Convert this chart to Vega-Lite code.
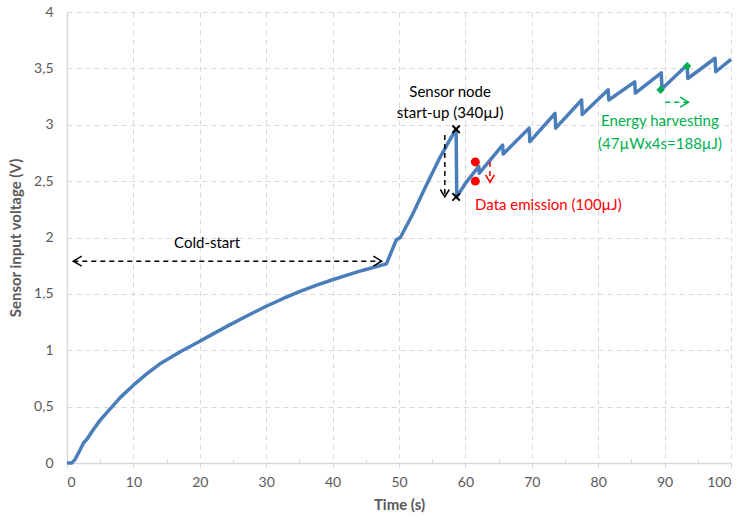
{
  "$schema": "https://vega.github.io/schema/vega-lite/v6.json",
  "width": 664,
  "height": 451,
  "autosize": {"type": "none"},
  "padding": {"left": 67, "top": 12, "right": 14, "bottom": 58},
  "background": "white",
  "config": {
    "font": "Lato",
    "view": {"stroke": null},
    "axis": {
      "labelColor": "#595959",
      "labelFontSize": 14,
      "labelFont": "Lato",
      "titleColor": "#595959",
      "titleFont": "Lato",
      "titleFontSize": 15,
      "titleFontWeight": "bold",
      "domainColor": "#D9D9D9",
      "domainWidth": 1.5,
      "gridColor": "#D9D9D9",
      "gridDash": [5, 4],
      "gridWidth": 1,
      "tickColor": "#D9D9D9"
    }
  },
  "datasets": {
    "curve": [
      {"t": 0, "v": 0}, {"t": 0.7, "v": 0}, {"t": 1.2, "v": 0.03}, {"t": 2.0, "v": 0.12},
      {"t": 2.5, "v": 0.18}, {"t": 3.0, "v": 0.21}, {"t": 4.0, "v": 0.3}, {"t": 5.0, "v": 0.38},
      {"t": 6.5, "v": 0.48}, {"t": 8, "v": 0.58}, {"t": 10, "v": 0.69}, {"t": 12, "v": 0.79},
      {"t": 14, "v": 0.88}, {"t": 17, "v": 0.985}, {"t": 20, "v": 1.08}, {"t": 22, "v": 1.145},
      {"t": 24.5, "v": 1.225}, {"t": 27, "v": 1.302}, {"t": 30, "v": 1.39}, {"t": 32.5, "v": 1.457},
      {"t": 35, "v": 1.52}, {"t": 37.5, "v": 1.575}, {"t": 40, "v": 1.625}, {"t": 42.3, "v": 1.669},
      {"t": 44.6, "v": 1.71}, {"t": 48.1, "v": 1.766}, {"t": 49.6, "v": 1.98}, {"t": 50.2, "v": 2.0},
      {"t": 52, "v": 2.2}, {"t": 54, "v": 2.45}, {"t": 56, "v": 2.69}, {"t": 57.5, "v": 2.85},
      {"t": 58.6, "v": 2.96}, {"t": 58.7, "v": 2.36}, {"t": 60, "v": 2.48}, {"t": 62.0, "v": 2.63},
      {"t": 62.1, "v": 2.57}, {"t": 65.6, "v": 2.82}, {"t": 65.7, "v": 2.74}, {"t": 69.6, "v": 2.97},
      {"t": 69.7, "v": 2.85}, {"t": 73.5, "v": 3.10}, {"t": 73.6, "v": 2.97}, {"t": 77.5, "v": 3.22},
      {"t": 77.6, "v": 3.09}, {"t": 81.5, "v": 3.31}, {"t": 81.6, "v": 3.22}, {"t": 85.5, "v": 3.38},
      {"t": 85.6, "v": 3.28}, {"t": 89.5, "v": 3.46}, {"t": 89.6, "v": 3.32}, {"t": 93.4, "v": 3.53},
      {"t": 93.5, "v": 3.41}, {"t": 97.6, "v": 3.59}, {"t": 97.7, "v": 3.47}, {"t": 100, "v": 3.58}
    ],
    "arrows": [
      {"group": "cold-start", "t1": 0.95, "t2": 47.4, "v1": 1.79, "v2": 1.79},
      {"group": "start-up", "t1": 56.9, "t2": 56.9, "v1": 2.91, "v2": 2.36},
      {"group": "emission", "t1": 63.7, "t2": 63.7, "v1": 2.67, "v2": 2.49},
      {"group": "harvesting", "t1": 90.1, "t2": 93.6, "v1": 3.2, "v2": 3.2}
    ],
    "heads": [
      {"group": "cold-start", "dir": "left", "t": 0.95, "v": 1.79},
      {"group": "cold-start", "dir": "right", "t": 47.4, "v": 1.79},
      {"group": "start-up", "dir": "down", "t": 56.9, "v": 2.36},
      {"group": "emission", "dir": "down", "t": 63.7, "v": 2.49},
      {"group": "harvesting", "dir": "right", "t": 93.6, "v": 3.2}
    ],
    "crosses": [
      {"group": "start-up", "t": 58.6, "v": 2.96},
      {"group": "start-up", "t": 58.6, "v": 2.36}
    ],
    "dots": [
      {"group": "emission", "t": 61.5, "v": 2.67},
      {"group": "emission", "t": 61.5, "v": 2.5},
      {"group": "harvesting", "t": 89.4, "v": 3.31},
      {"group": "harvesting", "t": 93.4, "v": 3.52}
    ],
    "labels": [
      {"group": "cold-start", "t": 21.1, "v": 1.95, "text": "Cold-start"},
      {"group": "start-up", "t": 57.7, "v": 3.29, "text": "Sensor node"},
      {"group": "start-up", "t": 57.7, "v": 3.10, "text": "start-up (340µJ)"},
      {"group": "emission", "t": 72.5, "v": 2.29, "text": "Data emission (100µJ)"},
      {"group": "harvesting", "t": 89.3, "v": 3.03, "text": "Energy harvesting"},
      {"group": "harvesting", "t": 89.3, "v": 2.83, "text": "(47µWx4s=188µJ)"}
    ]
  },
  "encoding": {
    "x": {
      "field": "t", "type": "quantitative",
      "scale": {"domain": [0, 100], "nice": false},
      "axis": {
        "title": "Time (s)",
        "values": [0, 5, 10, 15, 20, 25, 30, 35, 40, 45, 50, 55, 60, 65, 70, 75, 80, 85, 90, 95, 100],
        "labelExpr": "datum.value % 10 === 0 ? datum.label : ''",
        "gridOpacity": {"condition": {"test": "datum.value % 10 === 0", "value": 1}, "value": 0},
        "tickSize": {"condition": {"test": "datum.value % 10 === 0", "value": 5}, "value": -4},
        "labelPadding": 7,
        "titlePadding": 8
      }
    },
    "y": {
      "field": "v", "type": "quantitative",
      "scale": {"domain": [0, 4], "nice": false},
      "axis": {
        "title": "Sensor input voltage (V)",
        "values": [0, 0.5, 1, 1.5, 2, 2.5, 3, 3.5, 4],
        "format": "~g",
        "labelExpr": "replace(datum.label, '.', ',')",
        "ticks": false,
        "labelPadding": 14,
        "titlePadding": 10
      }
    },
    "color": {"field": "group", "type": "nominal", "legend": null,
      "scale": {"domain": ["cold-start", "start-up", "emission", "harvesting"], "range": ["#000000", "#000000", "#FF0000", "#00B050"]}}
  },
  "layer": [
    {
      "data": {"name": "curve"},
      "mark": {"type": "line", "color": "#4A7EBB", "strokeWidth": 3.5, "strokeJoin": "round"},
      "encoding": {"color": {"value": "#4A7EBB"}}
    },
    {
      "data": {"name": "arrows"},
      "mark": {"type": "rule", "strokeDash": [5, 4], "strokeWidth": 1.5},
      "encoding": {
        "x": {"field": "t1", "type": "quantitative"},
        "x2": {"field": "t2"},
        "y": {"field": "v1", "type": "quantitative"},
        "y2": {"field": "v2"}
      }
    },
    {
      "data": {"name": "heads"},
      "transform": [{"filter": "datum.dir === 'right'"}],
      "mark": {"type": "point", "shape": "M-1,-0.6L0,0L-1,0.6", "filled": false, "strokeWidth": 1.5, "opacity": 1, "size": 280, "angle": 0}
    },
    {
      "data": {"name": "heads"},
      "transform": [{"filter": "datum.dir === 'left'"}],
      "mark": {"type": "point", "shape": "M-1,-0.6L0,0L-1,0.6", "filled": false, "strokeWidth": 1.5, "opacity": 1, "size": 280, "angle": 180}
    },
    {
      "data": {"name": "heads"},
      "transform": [{"filter": "datum.dir === 'down'"}],
      "mark": {"type": "point", "shape": "M-1,-0.6L0,0L-1,0.6", "filled": false, "strokeWidth": 1.5, "opacity": 1, "size": 220, "angle": 90}
    },
    {
      "data": {"name": "crosses"},
      "mark": {"type": "point", "shape": "M-1,-1L1,1M-1,1L1,-1", "filled": false, "strokeWidth": 2, "opacity": 1, "size": 55}
    },
    {
      "data": {"name": "dots"},
      "mark": {"type": "point", "filled": true, "opacity": 1},
      "encoding": {
        "shape": {"field": "group", "type": "nominal", "legend": null, "scale": {"domain": ["emission", "harvesting"], "range": ["circle", "diamond"]}},
        "size": {"field": "group", "type": "nominal", "legend": null, "scale": {"domain": ["emission", "harvesting"], "range": [80, 70]}}
      }
    },
    {
      "data": {"name": "labels"},
      "mark": {"type": "text", "fontSize": 15, "font": "Lato", "align": "center", "baseline": "middle"},
      "encoding": {
        "text": {"field": "text"}
      }
    }
  ]
}
